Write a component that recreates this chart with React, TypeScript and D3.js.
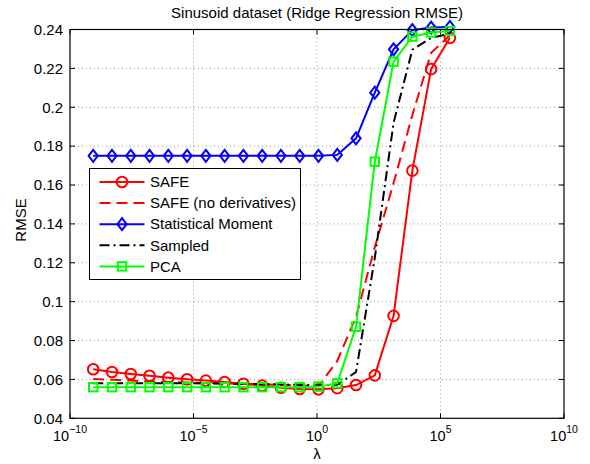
import * as d3 from 'd3';
import React from 'react';

// log10(lambda) at each evaluated point
const lambdaExp = [-9.06, -8.3, -7.54, -6.78, -6.02, -5.26, -4.5, -3.74, -2.98, -2.22, -1.46, -0.7, 0.06, 0.82, 1.58, 2.34, 3.1, 3.86, 4.62, 5.38];

const safe = [0.0652, 0.0638, 0.0628, 0.0619, 0.0609, 0.0601, 0.0594, 0.0587, 0.0578, 0.0568, 0.0557, 0.0551, 0.0549, 0.0555, 0.0571, 0.0621, 0.0927, 0.1674, 0.2196, 0.2357];
const safeNoDeriv = [0.0602, 0.0598, 0.0594, 0.059, 0.0587, 0.0584, 0.0582, 0.058, 0.0578, 0.0575, 0.0572, 0.0569, 0.0566, 0.0695, 0.0922, 0.128, 0.161, 0.196, 0.228, 0.237];
const statMoment = [0.175, 0.175, 0.175, 0.175, 0.175, 0.175, 0.175, 0.175, 0.175, 0.175, 0.175, 0.175, 0.175, 0.1755, 0.184, 0.2075, 0.2298, 0.2397, 0.241, 0.2413];
const sampled = [0.058, 0.058, 0.058, 0.058, 0.058, 0.058, 0.0579, 0.0578, 0.0577, 0.0576, 0.0574, 0.0572, 0.057, 0.0572, 0.0638, 0.1225, 0.192, 0.2296, 0.2357, 0.2378];
const pca = [0.056, 0.056, 0.056, 0.056, 0.056, 0.056, 0.056, 0.056, 0.056, 0.056, 0.056, 0.056, 0.0563, 0.058, 0.0871, 0.172, 0.2235, 0.2363, 0.2385, 0.2392];

const seriesNames = ['SAFE', 'SAFE (no derivatives)', 'Statistical Moment', 'Sampled', 'PCA'];
const xTickExp = [-10, -5, 0, 5, 10];
const yTicks = [0.04, 0.06, 0.08, 0.1, 0.12, 0.14, 0.16, 0.18, 0.2, 0.22, 0.24];

const W = 590, H = 464;
const left = 70, right = 564, top = 29.5, bottom = 418.3;
const font = '"Liberation Sans", Arial, Helvetica, sans-serif';

const series = [
  { name: seriesNames[0], values: safe, color: '#ff0000', dash: null, marker: 'circle' },
  { name: seriesNames[1], values: safeNoDeriv, color: '#ff0000', dash: '11,6', marker: null },
  { name: seriesNames[2], values: statMoment, color: '#0000ff', dash: null, marker: 'diamond' },
  { name: seriesNames[3], values: sampled, color: '#000000', dash: '10,4,2,4', marker: null },
  { name: seriesNames[4], values: pca, color: '#00ff00', dash: null, marker: 'square' },
];

function Marker({ type, x, y, color }: { type: string | null; x: number; y: number; color: string }) {
  if (type === 'circle') return <circle cx={x} cy={y} r={5.3} fill="none" stroke={color} strokeWidth={2} />;
  if (type === 'diamond')
    return <path d={`M${x},${y - 6}L${x + 4.6},${y}L${x},${y + 6}L${x - 4.6},${y}Z`} fill="none" stroke={color} strokeWidth={2} />;
  if (type === 'square') return <rect x={x - 4.2} y={y - 4.2} width={8.4} height={8.4} fill="none" stroke={color} strokeWidth={2} />;
  return null;
}

export default function App() {
  const x = d3.scaleLinear().domain([-10, 10]).range([left, right]);
  const y = d3.scaleLinear().domain([0.04, 0.24]).range([bottom, top]);
  const line = d3.line<number>().x((_, i) => x(lambdaExp[i])).y((d) => y(d));

  const legX = 89.5, legY = 168.5, legW = 211, legH = 111, rowH = 21.1;

  return (
    <svg width={W} height={H} style={{ position: 'absolute', left: 0, top: 0, background: '#fff' }} fontFamily={font}>
      <rect x={0} y={0} width={W} height={H} fill="#fff" />
      {/* grid */}
      <g stroke="#000" strokeWidth={0.7} strokeDasharray="1,3" opacity={0.55}>
        {xTickExp.slice(1, -1).map((e) => (
          <line key={'gx' + e} x1={x(e)} x2={x(e)} y1={top} y2={bottom} />
        ))}
        {yTicks.slice(1, -1).map((t) => (
          <line key={'gy' + t} x1={left} x2={right} y1={y(t)} y2={y(t)} />
        ))}
      </g>
      {/* ticks */}
      <g stroke="#000" strokeWidth={1}>
        {xTickExp.map((e) => (
          <g key={'tx' + e}>
            <line x1={x(e)} x2={x(e)} y1={bottom} y2={bottom - 5} />
            <line x1={x(e)} x2={x(e)} y1={top} y2={top + 5} />
          </g>
        ))}
        {yTicks.map((t) => (
          <g key={'ty' + t}>
            <line x1={left} x2={left + 5} y1={y(t)} y2={y(t)} />
            <line x1={right} x2={right - 5} y1={y(t)} y2={y(t)} />
          </g>
        ))}
      </g>
      {/* series */}
      {series.map((s) => (
        <g key={s.name}>
          <path d={line(s.values) || ''} fill="none" stroke={s.color} strokeWidth={2} strokeDasharray={s.dash || undefined} />
          {s.marker && s.values.map((v, i) => <Marker key={i} type={s.marker} x={x(lambdaExp[i])} y={y(v)} color={s.color} />)}
        </g>
      ))}
      {/* axes box */}
      <rect x={left} y={top} width={right - left} height={bottom - top} fill="none" stroke="#000" strokeWidth={1.2} />
      {/* y tick labels */}
      {yTicks.map((t) => (
        <text key={'yl' + t} x={left - 7} y={y(t)} dy="0.35em" textAnchor="end" fontSize={15} fill="#000">
          {d3.format('~g')(t)}
        </text>
      ))}
      {/* x tick labels */}
      {xTickExp.map((e) => (
        <text key={'xl' + e} x={x(e)} y={441} textAnchor="middle" fontSize={14.5} fill="#000">
          10
          <tspan fontSize={10.5} dy={-8}>
            {e < 0 ? '\u2212' + Math.abs(e) : String(e)}
          </tspan>
        </text>
      ))}
      <text x={(left + right) / 2} y={18} textAnchor="middle" fontSize={15} fill="#000">
        Sinusoid dataset (Ridge Regression RMSE)
      </text>
      <text x={317} y={459} textAnchor="middle" fontSize={15} fill="#000">
        λ
      </text>
      <text transform="translate(26,220) rotate(-90)" textAnchor="middle" fontSize={15} fill="#000">
        RMSE
      </text>
      {/* legend */}
      <g>
        <rect x={legX} y={legY} width={legW} height={legH} fill="#fff" stroke="#000" strokeWidth={1} />
        {series.map((s, i) => {
          const cy = legY + 13.5 + i * rowH;
          return (
            <g key={'lg' + s.name}>
              <line x1={99.5} x2={144.5} y1={cy} y2={cy} stroke={s.color} strokeWidth={2} strokeDasharray={s.dash || undefined} />
              <Marker type={s.marker} x={122} y={cy} color={s.color} />
              <text x={150} y={cy} dy="0.35em" fontSize={15} fill="#000">
                {s.name}
              </text>
            </g>
          );
        })}
      </g>
    </svg>
  );
}
